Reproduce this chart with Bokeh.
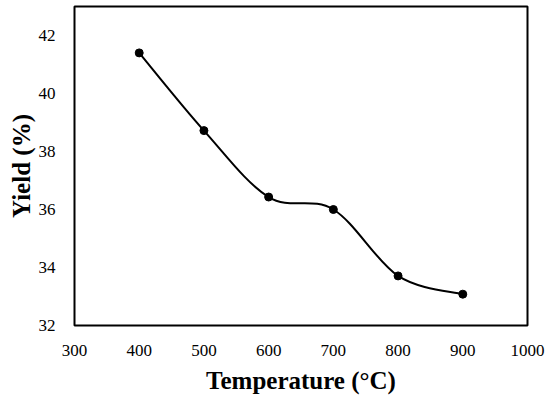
import numpy as np
from bokeh.plotting import figure
from bokeh.models import FixedTicker, Range1d
from bokeh.embed import file_html
from bokeh.resources import INLINE

# Data
temperature = [400, 500, 600, 700, 800, 900]
yield_pct = [41.40, 38.72, 36.43, 36.00, 33.71, 33.08]
x_ticks = [300, 400, 500, 600, 700, 800, 900, 1000]
y_ticks = [32, 34, 36, 38, 40, 42]

FONT = "Liberation Serif"

p = figure(width=550, height=399, output_backend="svg", toolbar_location=None,
           x_range=Range1d(300, 1000), y_range=Range1d(32, 43),
           min_border_left=74, min_border_right=23, min_border_top=6,
           min_border_bottom=74)

p.background_fill_color = "white"
p.border_fill_color = "white"
p.outline_line_color = "black"
p.outline_line_width = 2
p.grid.grid_line_color = None

# Smooth (Catmull-Rom style) curve like a spreadsheet "smoothed line"
xs = np.array(temperature, dtype=float)
ys = np.array(yield_pct, dtype=float)
n = len(xs)
xp = np.concatenate([[xs[0]], xs, [xs[-1]]])
yp = np.concatenate([[ys[0]], ys, [ys[-1]]])
x0 = xs[:-1]; y0 = ys[:-1]; x1 = xs[1:]; y1 = ys[1:]
cx0 = xp[1:n] + (xp[2:n+1] - xp[0:n-1]) / 6.0
cy0 = yp[1:n] + (yp[2:n+1] - yp[0:n-1]) / 6.0
cx1 = xp[2:n+1] - (xp[3:n+2] - xp[1:n]) / 6.0
cy1 = yp[2:n+1] - (yp[3:n+2] - yp[1:n]) / 6.0
p.bezier(x0=x0, y0=y0, x1=x1, y1=y1, cx0=cx0, cy0=cy0, cx1=cx1, cy1=cy1,
         line_color="black", line_width=2)
p.scatter(temperature, yield_pct, size=8, color="black")

p.xaxis.ticker = FixedTicker(ticks=x_ticks)
p.yaxis.ticker = FixedTicker(ticks=y_ticks)
for ax in (p.xaxis, p.yaxis):
    ax.axis_line_color = None
    ax.major_tick_line_color = None
    ax.minor_tick_line_color = None
    ax.major_label_text_font = FONT
    ax.major_label_text_font_size = "17px"
    ax.major_label_text_color = "black"
    ax.axis_label_text_font = FONT
    ax.axis_label_text_font_style = "bold"
    ax.axis_label_text_font_size = "25px"
    ax.axis_label_text_color = "black"

p.xaxis.axis_label = "Temperature (°C)"
p.yaxis.axis_label = "Yield (%)"
p.xaxis.major_label_standoff = 13
p.yaxis.major_label_standoff = 13
p.xaxis.axis_label_standoff = 8
p.yaxis.axis_label_standoff = 1

open("out.html", "w").write(file_html(p, INLINE))
